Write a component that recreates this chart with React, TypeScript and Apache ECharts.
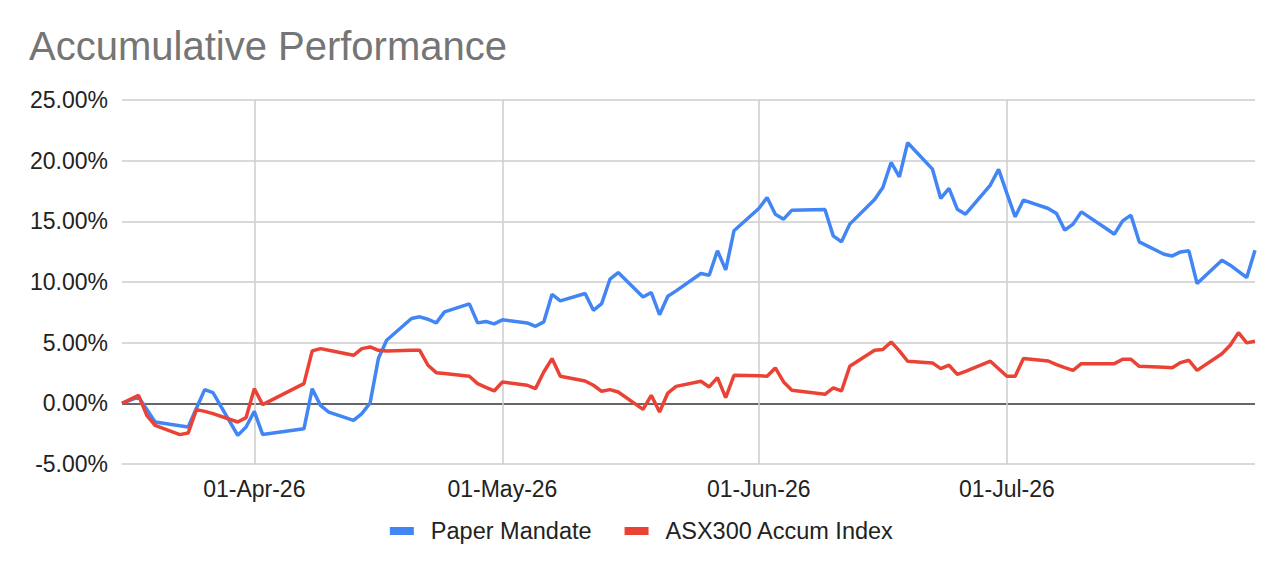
import React, { useEffect, useRef } from "react";
import * as echarts from "echarts";

const dates = [
  "2026-03-16","2026-03-17","2026-03-18","2026-03-19","2026-03-20",
  "2026-03-23","2026-03-24","2026-03-25","2026-03-26","2026-03-27",
  "2026-03-30","2026-03-31","2026-04-01","2026-04-02",
  "2026-04-07","2026-04-08","2026-04-09","2026-04-10",
  "2026-04-13","2026-04-14","2026-04-15","2026-04-16","2026-04-17",
  "2026-04-20","2026-04-21","2026-04-22","2026-04-23","2026-04-24",
  "2026-04-27","2026-04-28","2026-04-29","2026-04-30","2026-05-01",
  "2026-05-04","2026-05-05","2026-05-06","2026-05-07","2026-05-08",
  "2026-05-11","2026-05-12","2026-05-13","2026-05-14","2026-05-15",
  "2026-05-18","2026-05-19","2026-05-20","2026-05-21","2026-05-22",
  "2026-05-25","2026-05-26","2026-05-27","2026-05-28","2026-05-29",
  "2026-06-01","2026-06-02","2026-06-03","2026-06-04","2026-06-05",
  "2026-06-09","2026-06-10","2026-06-11","2026-06-12",
  "2026-06-15","2026-06-16","2026-06-17","2026-06-18","2026-06-19",
  "2026-06-22","2026-06-23","2026-06-24","2026-06-25","2026-06-26",
  "2026-06-29","2026-06-30","2026-07-01","2026-07-02","2026-07-03",
  "2026-07-06","2026-07-07","2026-07-08","2026-07-09","2026-07-10",
  "2026-07-13","2026-07-14","2026-07-15","2026-07-16","2026-07-17",
  "2026-07-20","2026-07-21","2026-07-22","2026-07-23","2026-07-24",
  "2026-07-27","2026-07-28","2026-07-29","2026-07-30","2026-07-31",
];

const paperMandate = [
  0.0, 0.26, 0.52, -0.5, -1.54,
  -1.85, -1.95, -0.41, 1.13, 0.88,
  -2.64, -1.95, -0.66, -2.56,
  -2.1, 1.21, -0.17, -0.72,
  -1.4, -0.85, 0.03, 3.69, 5.2,
  6.99, 7.13, 6.93, 6.63, 7.54,
  8.2, 6.63, 6.74, 6.55, 6.88,
  6.63, 6.35, 6.71, 8.99, 8.44,
  9.05, 7.67, 8.22, 10.23, 10.78,
  8.77, 9.13, 7.3, 8.83, 9.27,
  10.7, 10.56, 12.58, 11.0, 14.22,
  16.06, 16.96, 15.58, 15.18, 15.92,
  15.98, 13.8, 13.31, 14.77,
  16.8, 17.79, 19.85, 18.67, 21.48,
  19.3, 16.89, 17.71, 16.0, 15.59,
  17.99, 19.28, 17.3, 15.37, 16.75,
  16.06, 15.65, 14.27, 14.77, 15.78,
  14.41, 13.94, 15.04, 15.51, 13.31,
  12.29, 12.15, 12.48, 12.57, 9.87,
  11.8, 11.39, 10.88, 10.37, 12.62,
];

const asx300 = [
  0.0, 0.33, 0.66, -0.99, -1.82,
  -2.58, -2.45, -0.52, -0.66, -0.85,
  -1.54, -1.18, 1.21, -0.11,
  1.62, 4.32, 4.51, 4.37,
  3.96, 4.51, 4.65, 4.37, 4.32,
  4.37, 4.37, 3.14, 2.53, 2.46,
  2.23, 1.62, 1.32, 1.02, 1.76,
  1.49, 1.21, 2.58, 3.69, 2.23,
  1.84, 1.49, 0.99, 1.13, 0.93,
  -0.5, 0.66, -0.72, 0.85, 1.4,
  1.82, 1.35, 2.12, 0.47, 2.31,
  2.27, 2.23, 2.92, 1.76, 1.07,
  0.74, 1.27, 1.02, 3.05,
  4.37, 4.43, 5.06, 4.32, 3.47,
  3.33, 2.86, 3.14, 2.39, 2.64,
  3.47, 2.85, 2.23, 2.23, 3.69,
  3.49, 3.19, 2.95, 2.72, 3.27,
  3.27, 3.27, 3.63, 3.63, 3.05,
  2.98, 2.94, 3.36, 3.55, 2.72,
  4.09, 4.79, 5.83, 4.98, 5.12,
];

const seriesNames = ["Paper Mandate", "ASX300 Accum Index"];
const monthNames = ["Jan","Feb","Mar","Apr","May","Jun","Jul","Aug","Sep","Oct","Nov","Dec"];
const xMin = "2026-03-16";
const xMax = "2026-07-31";

const FONT = "'Liberation Sans', Arial, sans-serif";

export default function App() {
  const ref = useRef<HTMLDivElement>(null);

  useEffect(() => {
    document.body.style.margin = "0";
    if (!ref.current) return;
    const chart = echarts.init(ref.current, null, { renderer: "svg" });
    const DAY = 86400000;
    chart.setOption({
      animation: false,
      backgroundColor: "#ffffff",
      textStyle: { fontFamily: FONT },
      title: {
        text: "Accumulative Performance",
        left: 29,
        top: 26,
        padding: 0,
        textStyle: { fontFamily: FONT, fontSize: 40, fontWeight: "normal", color: "#757575" },
      },
      legend: {
        top: 514,
        left: "center",
        icon: "rect",
        itemWidth: 24,
        itemHeight: 8,
        itemGap: 33,
        data: seriesNames,
        textStyle: { fontFamily: FONT, fontSize: 23.5, color: "#222222", padding: [0, 0, 0, 12] },
      },
      grid: { left: 122, right: 29, top: 100, bottom: 108, containLabel: false },
      xAxis: {
        type: "time",
        min: xMin,
        max: xMax,
        splitNumber: 4,
        minInterval: 28 * DAY,
        axisLine: { show: false },
        axisTick: { show: false },
        splitLine: {
          show: true,
          showMinLine: false,
          showMaxLine: false,
          lineStyle: { color: "#cccccc", width: 1.5 },
        },
        axisLabel: {
          showMinLabel: false,
          showMaxLabel: false,
          margin: 13,
          fontFamily: FONT,
          fontSize: 23,
          color: "#222222",
          formatter: (val: number) => {
            const d = new Date(val);
            if (d.getDate() !== 1) return "";
            const yy = String(d.getFullYear()).slice(2);
            return "01-" + monthNames[d.getMonth()] + "-" + yy;
          },
        },
      },
      yAxis: {
        type: "value",
        min: -5,
        max: 25,
        interval: 5,
        axisLine: { show: false },
        axisTick: { show: false },
        splitLine: {
          show: true,
          lineStyle: {
            color: ["#cccccc", "#333333", "#cccccc", "#cccccc", "#cccccc", "#cccccc", "#cccccc"],
            width: 1.5,
          },
        },
        axisLabel: {
          margin: 14,
          fontFamily: FONT,
          fontSize: 23,
          color: "#222222",
          formatter: (v: number) => v.toFixed(2) + "%",
        },
      },
      series: [
        {
          name: seriesNames[0],
          type: "line",
          data: dates.map((d, i) => [d, paperMandate[i]]),
          showSymbol: false,
          symbol: "none",
          color: "#4285F4",
          lineStyle: { width: 3.5, color: "#4285F4" },
        },
        {
          name: seriesNames[1],
          type: "line",
          data: dates.map((d, i) => [d, asx300[i]]),
          showSymbol: false,
          symbol: "none",
          color: "#EA4335",
          lineStyle: { width: 3.5, color: "#EA4335" },
        },
      ],
    });
    return () => chart.dispose();
  }, []);

  return <div ref={ref} style={{ width: 1284, height: 572 }} />;
}
